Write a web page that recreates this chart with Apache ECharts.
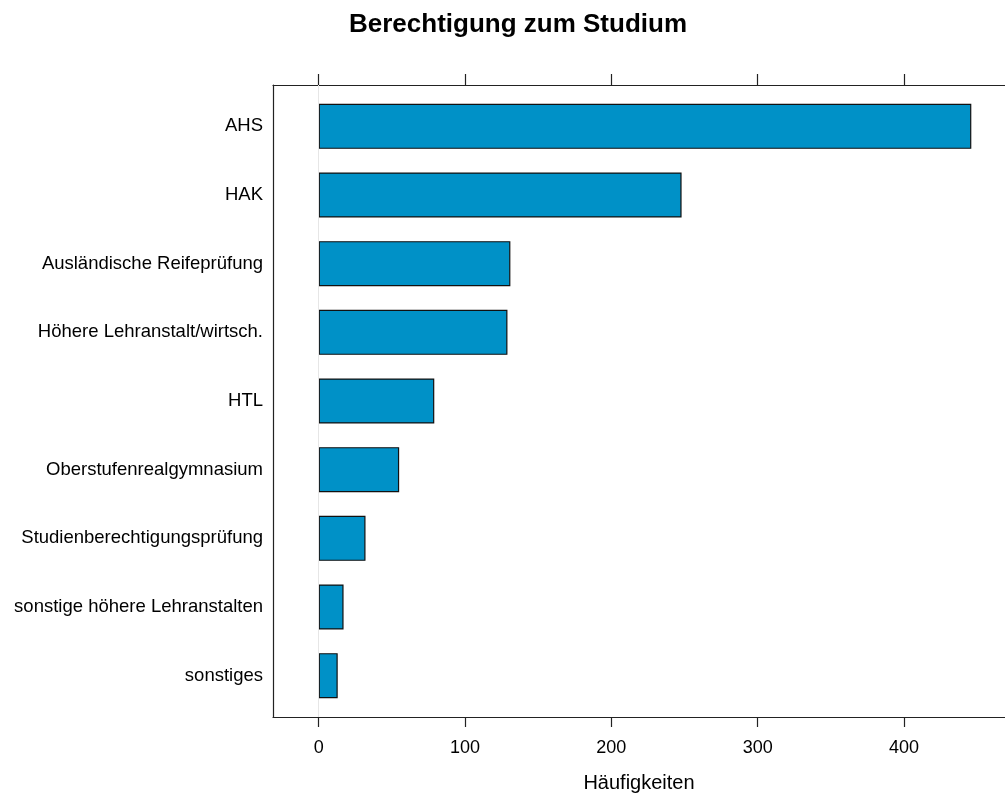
<!DOCTYPE html>
<html>
<head>
<meta charset="utf-8">
<script src="https://cdn.jsdelivr.net/npm/echarts@6/dist/echarts.min.js"></script>
<style>html,body{margin:0;padding:0;background:#fff}#c{width:1005px;height:798px}</style>
</head>
<body>
<div id="c"></div>
<script>
const categories = ["AHS","HAK","Ausländische Reifeprüfung","Höhere Lehranstalt/wirtsch.","HTL","Oberstufenrealgymnasium","Studienberechtigungsprüfung","sonstige höhere Lehranstalten","sonstiges"];
const counts = [446, 248, 131, 129, 79, 55, 32, 17, 13];
const xTicks = [0, 100, 200, 300, 400];
const titleText = "Berechtigung zum Studium";
const xName = "Häufigkeiten";

const dataMax = Math.max(...counts);
const pad = dataMax * 0.07;
const xMin = -pad, xMaxFull = dataMax + pad;
// the panel extends past the right edge of the page; only the visible part is drawn
const fullWidth = 744, visWidth = 732;
const xMax = xMin + (xMaxFull - xMin) * visWidth / fullWidth;
const FONT = "'Liberation Sans', Arial, sans-serif";
const FRAME = '#222';

const chart = echarts.init(document.getElementById('c'), null, {renderer: 'canvas'});
chart.setOption({
  animation: false,
  backgroundColor: '#fff',
  title: {
    text: titleText, left: 513, top: 7, textAlign: 'center',
    textStyle: {fontFamily: FONT, fontSize: 26, fontWeight: 'bold', color: '#000'}
  },
  grid: [
    {left: 273, width: visWidth, top: 85, height: 632, show: false, containLabel: false},
    {left: 273, width: visWidth, top: 92, height: 618, containLabel: false}
  ],
  xAxis: [
    {gridIndex: 0, type: 'value', position: 'bottom', min: xMin, max: xMax,
     axisLine: {show: true, onZero: false, lineStyle: {color: FRAME, width: 1.2}}, splitLine: {show: false},
     axisTick: {show: true, inside: false, length: 10, customValues: xTicks, lineStyle: {color: FRAME, width: 1.2}},
     axisLabel: {show: true, customValues: xTicks, fontFamily: FONT, fontSize: 18, color: '#000', margin: 22},
     name: xName, nameLocation: 'middle', nameGap: 56,
     nameTextStyle: {fontFamily: FONT, fontSize: 20, color: '#000'}},
    {gridIndex: 0, type: 'value', position: 'top', min: xMin, max: xMax,
     axisLine: {show: true, onZero: false, lineStyle: {color: FRAME, width: 1.2}}, splitLine: {show: false},
     axisTick: {show: true, inside: false, length: 11, customValues: xTicks, lineStyle: {color: FRAME, width: 1.2}},
     axisLabel: {show: false}},
    {gridIndex: 1, type: 'value', min: xMin, max: xMax, show: false}
  ],
  yAxis: [
    {gridIndex: 0, type: 'value', min: 0, max: 1, position: 'left',
     axisLine: {show: true, onZero: false, lineStyle: {color: FRAME, width: 1.2}},
     axisTick: {show: false}, axisLabel: {show: false}, splitLine: {show: false}},
    {gridIndex: 1, type: 'category', inverse: true, data: categories,
     axisLine: {show: false}, axisTick: {show: false}, splitLine: {show: false},
     axisLabel: {fontFamily: FONT, fontSize: 18.5, color: '#000', margin: 10}}
  ],
  series: [
    {type: 'line', xAxisIndex: 0, yAxisIndex: 0, data: [], z: 1, silent: true,
     markLine: {silent: true, symbol: ['none','none'], label: {show: false},
       lineStyle: {color: '#e6e6e6', type: 'solid', width: 1},
       data: [{xAxis: 0}]}},
    {type: 'bar', xAxisIndex: 2, yAxisIndex: 1, data: counts, barWidth: 45, z: 2,
     itemStyle: {color: '#0091c7', borderColor: '#111', borderWidth: 1.2}}
  ]
});
</script>
</body>
</html>
